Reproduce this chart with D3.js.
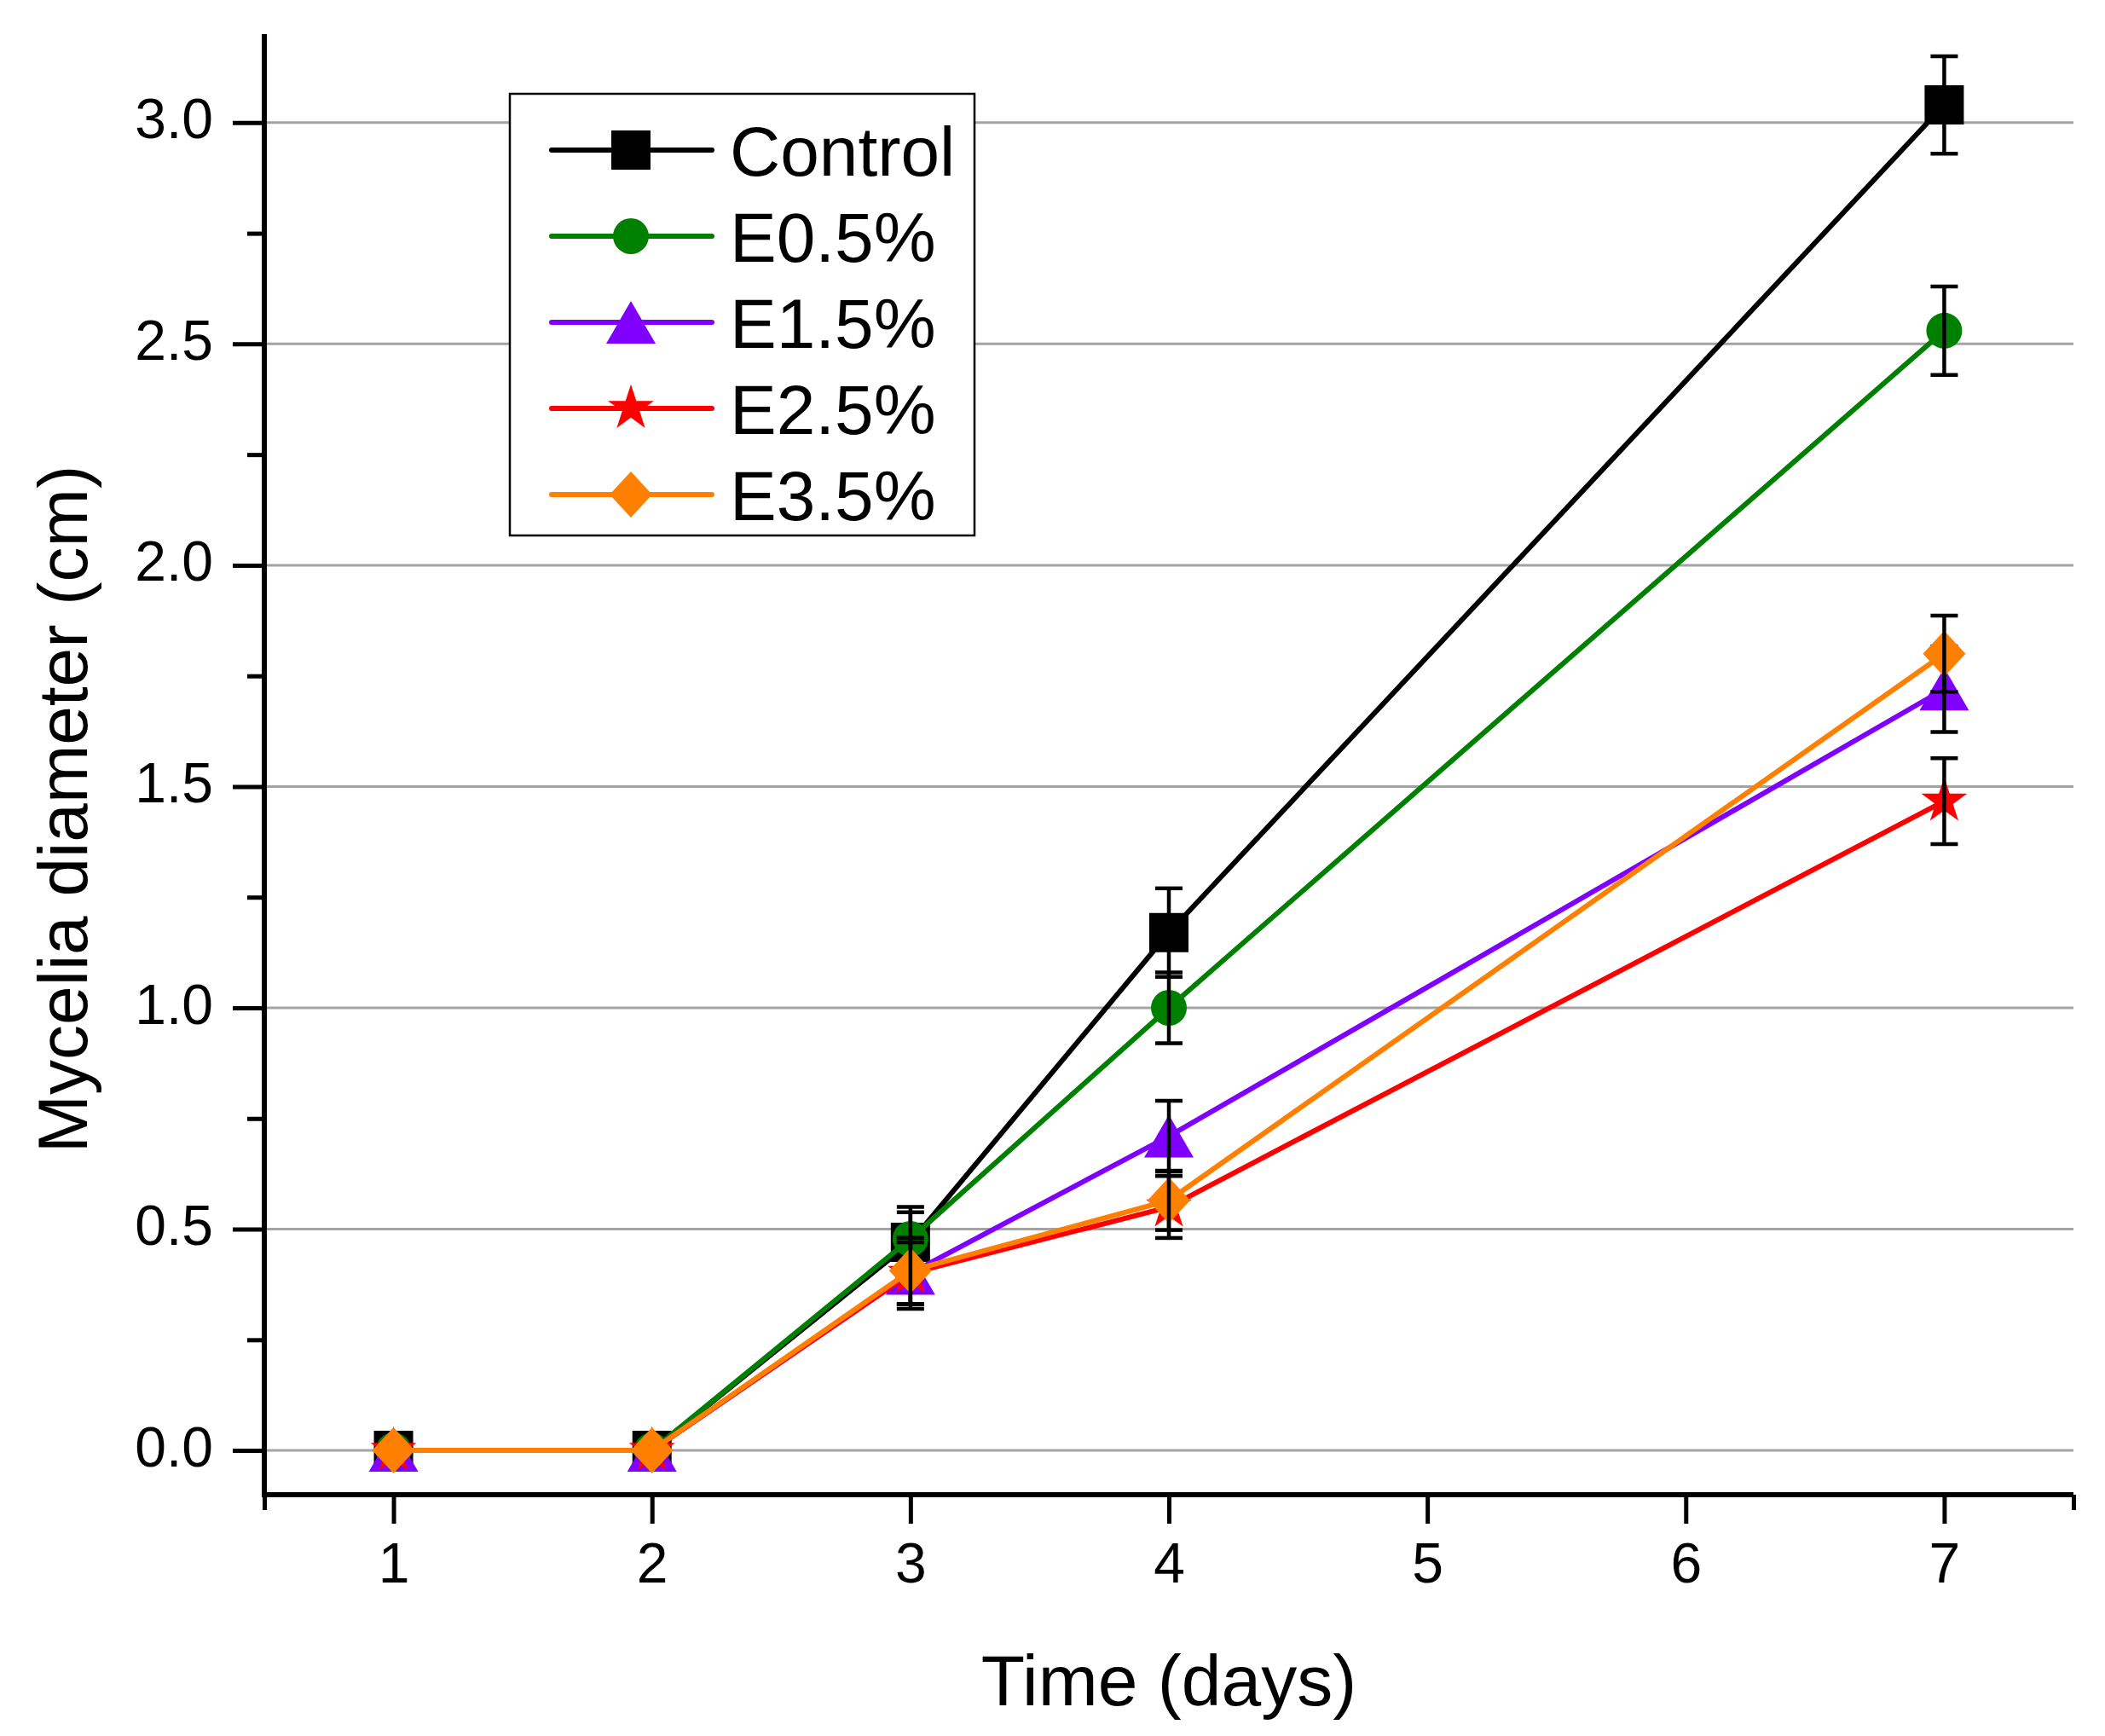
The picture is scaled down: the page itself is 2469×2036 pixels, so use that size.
<!DOCTYPE html>
<html>
<head>
<meta charset="utf-8">
<script src="https://cdn.jsdelivr.net/npm/d3@7"></script>
<style>
  body { margin: 0; background: #fff; }
  text { font-family: "Liberation Sans", Arial, sans-serif; fill: #000; }
</style>
</head>
<body>
<div id="chart"></div>
<script>
// data
var days = [1, 2, 3, 4, 7];
var seriesNames = ["Control", "E0.5%", "E1.5%", "E2.5%", "E3.5%"];
var controlVals = [0, 0, 0.47, 1.17, 3.04];
var controlErr  = [0, 0, 0.08, 0.10, 0.11];
var e05Vals = [0, 0, 0.478, 1.00, 2.53];
var e05Err  = [0, 0, 0.06, 0.08, 0.10];
var e15Vals = [0, 0, 0.40, 0.71, 1.72];
var e15Err  = [0, 0, 0.08, 0.08, 0.097];
var e25Vals = [0, 0, 0.40, 0.55, 1.467];
var e25Err  = [0, 0, 0.07, 0.07, 0.097];
var e35Vals = [0, 0, 0.406, 0.565, 1.80];
var e35Err  = [0, 0, 0.075, 0.067, 0.086];
var xTicks = [1, 2, 3, 4, 5, 6, 7];
var yTicks = [0, 0.5, 1.0, 1.5, 2.0, 2.5, 3.0];
var yMinorTicks = [0.25, 0.75, 1.25, 1.75, 2.25, 2.75];

var svgWidth = 2469;
var svgHeight = 2036;

var colors = ["#000000", "#008000", "#8000ff", "#ff0000", "#ff8000"];
var shapes = ["square", "circle", "triangle", "star", "diamond"];

var allVals = [controlVals, e05Vals, e15Vals, e25Vals, e35Vals];
var allErr = [controlErr, e05Err, e15Err, e25Err, e35Err];

var svg = d3.select("#chart")
    .append("svg")
    .attr("width", svgWidth)
    .attr("height", svgHeight);

var xScale = d3.scaleLinear().domain([0.5, 7.5]).range([310, 2432]);
var yScale = d3.scaleLinear().domain([-0.1, 3.2]).range([1753, 40]);

// marker shapes
var triType = {
    draw: function(ctx, size) {
        var w = 58, h = 50;
        ctx.moveTo(0, -h / 2);
        ctx.lineTo(w / 2, h / 2);
        ctx.lineTo(-w / 2, h / 2);
        ctx.closePath();
    }
};
var diaType = {
    draw: function(ctx, size) {
        var w = 50, h = 54;
        ctx.moveTo(0, -h / 2);
        ctx.lineTo(w / 2, 0);
        ctx.lineTo(0, h / 2);
        ctx.lineTo(-w / 2, 0);
        ctx.closePath();
    }
};

function markerPath(shape) {
    if (shape === "square") return d3.symbol(d3.symbolSquare, 46 * 46)();
    if (shape === "circle") return d3.symbol(d3.symbolCircle, Math.PI * 21 * 21)();
    if (shape === "star") return d3.symbol(d3.symbolStar, 900)();
    if (shape === "triangle") return d3.symbol(triType, 1)();
    return d3.symbol(diaType, 1)();
}

// gridlines
svg.append("g").selectAll("line")
    .data(yTicks)
    .enter()
    .append("line")
    .attr("x1", xScale(0.5) + 3)
    .attr("x2", xScale(7.5))
    .attr("y1", d => yScale(d))
    .attr("y2", d => yScale(d))
    .attr("stroke", "#a3a3a3")
    .attr("stroke-width", 3);

var line = d3.line()
    .x(d => xScale(d.day))
    .y(d => yScale(d.v));

allVals.forEach(function(vals, i) {
    var pts = days.map((d, j) => ({ day: d, v: vals[j], e: allErr[i][j] }));
    var g = svg.append("g");

    g.append("path")
        .datum(pts)
        .attr("d", line)
        .attr("fill", "none")
        .attr("stroke", colors[i])
        .attr("stroke-width", 6)
        .attr("stroke-linejoin", "round");

    g.selectAll(".mk")
        .data(pts)
        .enter()
        .append("path")
        .attr("class", "mk")
        .attr("d", markerPath(shapes[i]))
        .attr("transform", d => `translate(${xScale(d.day)},${yScale(d.v)})`)
        .attr("fill", colors[i]);

    var eb = g.selectAll(".eb")
        .data(pts.filter(d => d.e > 0))
        .enter()
        .append("g")
        .attr("class", "eb")
        .attr("stroke", "#000")
        .attr("stroke-width", 4.5);
    eb.append("line")
        .attr("x1", d => xScale(d.day)).attr("x2", d => xScale(d.day))
        .attr("y1", d => yScale(d.v + d.e)).attr("y2", d => yScale(d.v - d.e));
    eb.append("line")
        .attr("x1", d => xScale(d.day) - 16).attr("x2", d => xScale(d.day) + 16)
        .attr("y1", d => yScale(d.v + d.e)).attr("y2", d => yScale(d.v + d.e));
    eb.append("line")
        .attr("x1", d => xScale(d.day) - 16).attr("x2", d => xScale(d.day) + 16)
        .attr("y1", d => yScale(d.v - d.e)).attr("y2", d => yScale(d.v - d.e));
});

// axes
var yAxis = svg.append("g")
    .attr("transform", `translate(${xScale(0.5)},0)`)
    .call(d3.axisLeft(yScale).tickValues(yTicks).tickFormat(d3.format(".1f"))
        .tickSize(37).tickSizeOuter(0).tickPadding(23));
yAxis.select(".domain").remove();
yAxis.selectAll(".tick line").attr("stroke-width", 5);
yAxis.selectAll(".tick text")
    .attr("font-size", 66)
    .attr("font-family", "Liberation Sans, Arial, sans-serif")
    .attr("dy", 18);

var yMinor = svg.append("g")
    .attr("transform", `translate(${xScale(0.5)},0)`)
    .call(d3.axisLeft(yScale).tickValues(yMinorTicks).tickFormat("").tickSize(20).tickSizeOuter(0));
yMinor.select(".domain").remove();
yMinor.selectAll(".tick line").attr("stroke-width", 5);

var xAxis = svg.append("g")
    .attr("transform", `translate(0,${yScale(-0.1)})`)
    .call(d3.axisBottom(xScale).tickValues(xTicks).tickFormat(d3.format("d"))
        .tickSize(34).tickSizeOuter(0).tickPadding(22));
xAxis.select(".domain").remove();
xAxis.selectAll(".tick line").attr("stroke-width", 5);
xAxis.selectAll(".tick text")
    .attr("font-size", 66)
    .attr("font-family", "Liberation Sans, Arial, sans-serif");

var xEnds = svg.append("g")
    .attr("transform", `translate(0,${yScale(-0.1)})`)
    .call(d3.axisBottom(xScale).tickValues([0.5, 7.5]).tickFormat("").tickSize(18).tickSizeOuter(0));
xEnds.select(".domain").remove();
xEnds.selectAll(".tick line").attr("stroke-width", 5);

// axis lines
svg.append("line")
    .attr("x1", xScale(0.5)).attr("x2", xScale(0.5))
    .attr("y1", yScale(3.2)).attr("y2", yScale(-0.1) + 3)
    .attr("stroke", "#000").attr("stroke-width", 6);
svg.append("line")
    .attr("x1", xScale(0.5) - 3).attr("x2", xScale(7.5))
    .attr("y1", yScale(-0.1)).attr("y2", yScale(-0.1))
    .attr("stroke", "#000").attr("stroke-width", 6);

// axis titles
svg.append("text")
    .attr("x", 1371)
    .attr("y", 2000)
    .attr("text-anchor", "middle")
    .attr("font-size", 84)
    .text("Time (days)");

svg.append("text")
    .attr("transform", "translate(102,949) rotate(-90)")
    .attr("text-anchor", "middle")
    .attr("font-size", 82)
    .text("Mycelia diameter (cm)");

// legend
var legend = svg.append("g");
legend.append("rect")
    .attr("x", 598).attr("y", 110)
    .attr("width", 545).attr("height", 518)
    .attr("fill", "#fff")
    .attr("stroke", "#000")
    .attr("stroke-width", 2.5);

seriesNames.forEach(function(name, i) {
    var yy = 176 + i * 101;
    legend.append("line")
        .attr("x1", 647).attr("x2", 835)
        .attr("y1", yy).attr("y2", yy)
        .attr("stroke", colors[i])
        .attr("stroke-width", 6)
        .attr("stroke-linecap", "round");
    legend.append("path")
        .attr("d", markerPath(shapes[i]))
        .attr("transform", `translate(740,${yy})`)
        .attr("fill", colors[i]);
    legend.append("text")
        .attr("x", 856)
        .attr("y", yy + 30)
        .attr("font-size", 82)
        .text(name);
});
</script>
</body>
</html>
